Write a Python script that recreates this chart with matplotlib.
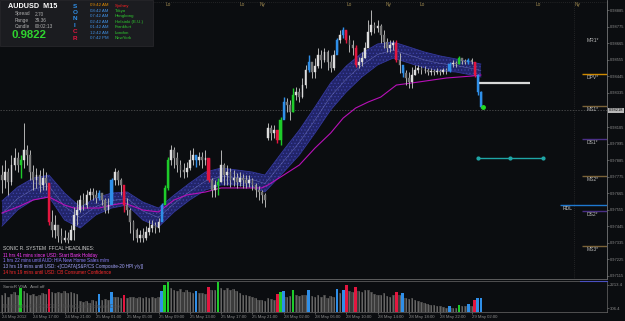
import matplotlib
matplotlib.use('Agg')
import matplotlib.pyplot as plt
from matplotlib.patches import Rectangle

plt.rcParams['font.family'] = ['Liberation Sans', 'DejaVu Sans']
plt.rcParams['hatch.linewidth'] = 0.5

# AUDUSD M15 bars
first_open = 0.97786
monday_open = 0.98033   # first bar after the weekend gap
gap_bar = 85
closes = [0.97753, 0.97806, 0.97740, 0.97853, 0.97900, 0.97853, 0.97886, 0.97953, 0.97920, 0.97806,
          0.97753, 0.97786, 0.97720, 0.97766, 0.97733, 0.97473, 0.97420, 0.97453, 0.97380, 0.97353,
          0.97366, 0.97353, 0.97420, 0.97520, 0.97553, 0.97620, 0.97586, 0.97653, 0.97673, 0.97653,
          0.97633, 0.97666, 0.97620, 0.97553, 0.97586, 0.97753, 0.97806, 0.97753, 0.97720, 0.97586,
          0.97553, 0.97473, 0.97420, 0.97366, 0.97386, 0.97366, 0.97406, 0.97433, 0.97453, 0.97433,
          0.97473, 0.97586, 0.97700, 0.97886, 0.97953, 0.97900, 0.97853, 0.97820, 0.97806, 0.97833,
          0.97886, 0.97920, 0.97886, 0.97906, 0.97886, 0.97900, 0.97753, 0.97686, 0.97720, 0.97740,
          0.97853, 0.97786, 0.97806, 0.97753, 0.97766, 0.97740, 0.97766, 0.97753, 0.97733, 0.97753,
          0.97720, 0.97686, 0.97673, 0.97653, 0.97620, 0.98100, 0.98066, 0.98086, 0.98020, 0.98153,
          0.98273, 0.98253, 0.98206, 0.98320, 0.98340, 0.98306, 0.98386, 0.98486, 0.98540, 0.98473,
          0.98513, 0.98586, 0.98553, 0.98606, 0.98540, 0.98500, 0.98586, 0.98686, 0.98720, 0.98753,
          0.98686, 0.98653, 0.98633, 0.98520, 0.98540, 0.98566, 0.98633, 0.98740, 0.98786, 0.98766,
          0.98780, 0.98720, 0.98673, 0.98633, 0.98653, 0.98666, 0.98553, 0.98520, 0.98466, 0.98433,
          0.98406, 0.98453, 0.98486, 0.98500, 0.98486, 0.98486, 0.98473, 0.98480, 0.98473, 0.98480,
          0.98473, 0.98486, 0.98480, 0.98526, 0.98533, 0.98526, 0.98566, 0.98546, 0.98540, 0.98553,
          0.98540, 0.98453, 0.98340, 0.98240]
highs = [0.97853, 0.97886, 0.97833, 0.97920, 0.97966, 0.97940, 0.97920, 0.98133, 0.97986, 0.97953,
         0.97853, 0.97833, 0.97820, 0.97833, 0.97806, 0.97733, 0.97553, 0.97520, 0.97453, 0.97433,
         0.97420, 0.97406, 0.97453, 0.97573, 0.97620, 0.97653, 0.97666, 0.97686, 0.97700, 0.97700,
         0.97686, 0.97686, 0.97666, 0.97633, 0.97633, 0.97766, 0.97833, 0.97820, 0.97766, 0.97686,
         0.97633, 0.97566, 0.97486, 0.97433, 0.97420, 0.97433, 0.97446, 0.97486, 0.97486, 0.97473,
         0.97500, 0.97600, 0.97720, 0.97906, 0.97986, 0.97973, 0.97940, 0.97886, 0.97866, 0.97873,
         0.97953, 0.97966, 0.97920, 0.97940, 0.97940, 0.97953, 0.97900, 0.97766, 0.97753, 0.97766,
         0.97953, 0.97866, 0.97853, 0.97833, 0.97820, 0.97800, 0.97806, 0.97793, 0.97786, 0.97786,
         0.97766, 0.97733, 0.97713, 0.97686, 0.97666, 0.98133, 0.98120, 0.98120, 0.98086, 0.98173,
         0.98306, 0.98300, 0.98286, 0.98366, 0.98373, 0.98366, 0.98433, 0.98520, 0.98586, 0.98520,
         0.98566, 0.98633, 0.98620, 0.98633, 0.98620, 0.98586, 0.98620, 0.98700, 0.98753, 0.98773,
         0.98753, 0.98720, 0.98686, 0.98653, 0.98573, 0.98606, 0.98673, 0.98820, 0.98886, 0.98806,
         0.98820, 0.98793, 0.98753, 0.98700, 0.98686, 0.98686, 0.98686, 0.98600, 0.98506, 0.98486,
         0.98473, 0.98506, 0.98520, 0.98520, 0.98513, 0.98513, 0.98500, 0.98500, 0.98493, 0.98500,
         0.98493, 0.98500, 0.98500, 0.98540, 0.98553, 0.98546, 0.98580, 0.98566, 0.98560, 0.98566,
         0.98566, 0.98540, 0.98460, 0.98346]
lows = [0.97666, 0.97700, 0.97653, 0.97720, 0.97820, 0.97806, 0.97766, 0.97833, 0.97853, 0.97753,
        0.97686, 0.97700, 0.97673, 0.97686, 0.97686, 0.97453, 0.97373, 0.97366, 0.97340, 0.97333,
        0.97340, 0.97333, 0.97353, 0.97353, 0.97453, 0.97540, 0.97553, 0.97566, 0.97620, 0.97620,
        0.97600, 0.97620, 0.97586, 0.97533, 0.97533, 0.97620, 0.97720, 0.97720, 0.97653, 0.97540,
        0.97520, 0.97400, 0.97353, 0.97340, 0.97340, 0.97340, 0.97353, 0.97386, 0.97406, 0.97400,
        0.97406, 0.97506, 0.97620, 0.97686, 0.97853, 0.97833, 0.97806, 0.97773, 0.97766, 0.97773,
        0.97820, 0.97853, 0.97840, 0.97853, 0.97833, 0.97853, 0.97740, 0.97640, 0.97640, 0.97653,
        0.97740, 0.97720, 0.97720, 0.97706, 0.97713, 0.97700, 0.97713, 0.97700, 0.97700, 0.97706,
        0.97686, 0.97640, 0.97620, 0.97600, 0.97573, 0.98020, 0.98020, 0.98033, 0.98000, 0.97986,
        0.98166, 0.98206, 0.98153, 0.98206, 0.98286, 0.98273, 0.98300, 0.98366, 0.98473, 0.98433,
        0.98433, 0.98500, 0.98500, 0.98540, 0.98486, 0.98473, 0.98486, 0.98606, 0.98666, 0.98700,
        0.98666, 0.98606, 0.98586, 0.98506, 0.98500, 0.98513, 0.98566, 0.98653, 0.98720, 0.98733,
        0.98740, 0.98666, 0.98633, 0.98606, 0.98606, 0.98620, 0.98540, 0.98466, 0.98440, 0.98386,
        0.98366, 0.98366, 0.98453, 0.98466, 0.98460, 0.98466, 0.98453, 0.98453, 0.98453, 0.98460,
        0.98453, 0.98460, 0.98460, 0.98473, 0.98506, 0.98506, 0.98526, 0.98526, 0.98526, 0.98526,
        0.98526, 0.98440, 0.98320, 0.98233]
volumes = [1350, 1500, 1250, 1450, 1600, 1400, 1950, 1700, 1500, 1350,
           1450, 1300, 1400, 1550, 1450, 1880, 1600, 1500, 1650, 1550,
           1700, 1500, 1650, 1550, 1450, 850, 800, 900, 750, 950,
           900, 1430, 1000, 1050, 950, 1600, 1250, 1200, 1150, 1340,
           1150, 1200, 1250, 1100, 1200, 1150, 1250, 1100, 1200, 1150,
           1250, 1700, 2140, 2450, 1900, 1800, 1700, 1850, 1650, 1750,
           1600, 1550, 1700, 1500, 1550, 1450, 2050, 1800, 1750, 2400,
           1950, 1800, 1900, 1750, 1850, 1700, 1500, 1400, 1350, 1300,
           1200, 1100, 1000, 950, 900, 1100, 1050, 1000, 1430, 1600,
           1700, 1250, 1300, 1780, 1350, 1300, 1400, 1350, 1780, 1300,
           1250, 1400, 1200, 1350, 1150, 1300, 1250, 1870, 1500, 1780,
           2150, 1700, 1650, 2050, 1700, 1650, 1800, 1750, 1600, 1450,
           1400, 1350, 1500, 1300, 1250, 1350, 1600, 1340, 1500, 1100,
           1050, 1150, 1000, 900, 800, 750, 650, 600, 550, 500,
           450, 400, 350, 450, 300, 350, 540, 500, 520, 620,
           450, 980, 1160, 1160]

# VSA coloured bars
green_bars = [6, 52, 53, 69, 89, 93, 146]
red_bars = [15, 39, 66, 88, 110, 113, 126, 151]
blue_bars = [31, 35, 51, 62, 90, 98, 107, 109, 128, 143, 149, 152, 153]

# Sonic R dragon band (EMA34 high / low) and the magenta MA
band_idx = [0, 5, 10, 15, 20, 25, 30, 35, 40, 45, 50, 55, 60, 65, 70, 75, 80, 84,
            90, 95, 100, 105, 110, 115, 120, 125, 130, 135, 140, 145, 150, 153]
band_top = [0.97613, 0.97706, 0.97766, 0.97786, 0.97666, 0.97573, 0.97633, 0.97666, 0.97673,
            0.97606, 0.97566, 0.97653, 0.97733, 0.97806, 0.97833, 0.97820, 0.97806, 0.97786,
            0.97953, 0.98086, 0.98240, 0.98400, 0.98513, 0.98600, 0.98660, 0.98673, 0.98640,
            0.98606, 0.98580, 0.98560, 0.98540, 0.98526]
band_bot = [0.97446, 0.97553, 0.97620, 0.97640, 0.97486, 0.97433, 0.97520, 0.97566, 0.97586,
            0.97486, 0.97440, 0.97540, 0.97620, 0.97686, 0.97720, 0.97720, 0.97706, 0.97673,
            0.97806, 0.97920, 0.98066, 0.98220, 0.98340, 0.98440, 0.98520, 0.98566, 0.98533,
            0.98500, 0.98480, 0.98473, 0.98453, 0.98440]
ma_idx = [0, 5, 10, 15, 20, 23, 27, 31, 35, 39, 45, 50, 55, 59, 65, 70, 75, 80, 83, 85,
          90, 95, 100, 105, 109, 113, 117, 121, 126, 133, 142, 150, 153]
ma_vals = [0.97533, 0.97573, 0.97620, 0.97640, 0.97586, 0.97566, 0.97566, 0.97566, 0.97586,
           0.97600, 0.97553, 0.97540, 0.97620, 0.97653, 0.97673, 0.97700, 0.97700, 0.97700,
           0.97700, 0.97720, 0.97786, 0.97853, 0.97966, 0.98066, 0.98166, 0.98233, 0.98273,
           0.98306, 0.98386, 0.98406, 0.98433, 0.98446, 0.98453]

current_price = 0.98218
target_white = 0.98400
target_teal = 0.97900
pivot_names = ['MR1*', 'DPV*', 'MS1*', 'DS1*', 'MS2*', 'DS2*', 'MS3*']
pivot_levels = [0.98706, 0.98460, 0.98246, 0.98026, 0.97780, 0.97546, 0.97313]
pivot_colors = ['#0b0d10', '#d08a00', '#7a6238', '#4a2f86', '#7a6238', '#4a2f86', '#7a6238']
rdl_level = 0.97586

price_ticks = [0.98885, 0.98775, 0.98665, 0.98555, 0.98445, 0.98335, 0.98105, 0.97995,
               0.97885, 0.97775, 0.97665, 0.97555, 0.97445, 0.97335, 0.97225, 0.97115]
date_bars = [0, 10, 20, 30, 40, 50, 60, 70, 80, 90, 100, 110, 120, 130, 140, 150]
date_labels = ['24 May 2012', '24 May 17:00', '24 May 21:00', '25 May 01:00', '25 May 05:00',
               '25 May 09:00', '25 May 13:00', '25 May 17:00', '25 May 21:00', '28 May 02:00',
               '28 May 06:00', '28 May 10:00', '28 May 14:00', '28 May 18:00', '28 May 22:00',
               '29 May 02:00']
session_names = ['Lo', 'Lo', 'Ny', 'Lo', 'Ny', 'Lo', 'Lo', 'Ny']
session_bars = [53, 76.7, 83.4, 111, 123.6, 134.2, 171.2, 184]

headlines = ['11 hrs 41 mins since USD: Start Bank Holiday',
             '1 hrs 22 mins until AUD: HIA New Home Sales m/m',
             '13 hrs 19 mins until USD: +[CDATA[S&P/CS Composite-20 HPI y/y]]',
             '14 hrs 19 mins until USD: CB Consumer Confidence']
headline_colors = ['#ff3cff', '#8c82ff', '#a6a6ff', '#ff2a2a']
clock_times = ['09:42 AM', '08:42 AM', '07:42 AM', '02:42 AM', '01:42 AM', '12:42 AM', '07:42 PM']
clock_cities = ['Sydney', 'Tokyo', 'Hongkong', 'Helsinki (E.U.)', 'Frankfurt', 'London', 'NewYork']

BG = '#0b0d10'
GREEN, RED, BLUE = '#1ecb2a', '#e3163f', '#2f8fe8'

n = len(closes)
opens = [first_open] + closes[:-1]
opens[gap_bar] = monday_open
colors = []
for i in range(n):
    if i in green_bars:
        colors.append(GREEN)
    elif i in red_bars:
        colors.append(RED)
    elif i in blue_bars:
        colors.append(BLUE)
    else:
        colors.append(None)

fig = plt.figure(figsize=(6.25, 3.21), dpi=100, facecolor=BG)
W, H = 625, 321
px_bar = 3.13
x0 = 2
xlim = (-x0 / px_bar, (607 - x0) / px_bar)

# ---- main price panel
ax = fig.add_axes([0, 1 - 279 / H, 607 / W, 279 / H], facecolor=BG)
ax.set_xlim(*xlim)
ax.set_ylim(0.97093, 0.98953)

ax.fill_between(band_idx, band_bot, band_top, facecolor='#22256a', edgecolor='#3d42a6',
                hatch='.....', linewidth=0, zorder=1)
ax.plot(band_idx, band_top, color='#33379a', lw=0.6, zorder=1.5)
ax.plot(band_idx, band_bot, color='#33379a', lw=0.6, zorder=1.5)
ax.plot(band_idx, [(a + b) / 2 for a, b in zip(band_top, band_bot)], color='#7b80c8',
        lw=0.4, alpha=0.7, zorder=1.6)
ax.plot(ma_idx, ma_vals, color='#b810b8', lw=0.8, zorder=2)

ax.axhline(current_price, color='#5a5a5a', lw=0.5, ls=(0, (2, 2)), zorder=0.5)

for i in range(n):
    o, c = opens[i], closes[i]
    col = colors[i]
    wick = col if col else '#b4b4b4'
    body = col if col else ('#dcdcdc' if c >= o else '#7a7a7a')
    ax.vlines(i, lows[i], highs[i], color=wick, lw=0.7 if col is None else 1.0, zorder=3)
    lo, hi = min(o, c), max(o, c)
    ax.bar(i, max(hi - lo, 0.00003), bottom=lo, width=0.55 if col is None else 0.7,
           color=body, edgecolor=body, linewidth=0.3, zorder=4)

ax.plot([n - 1 + 0.7], [closes[-1]], 'o', color='#22dd22', ms=2.5, zorder=5)
ax.hlines(target_white, (479 - x0) / px_bar, (530 - x0) / px_bar, color='#d8d8d8', lw=1.6, zorder=3)
tb = [(478 - x0) / px_bar, (510 - x0) / px_bar, (543 - x0) / px_bar]
ax.plot(tb, [target_teal] * 3, color='#1fa6a6', lw=1.0, marker='o', ms=2, zorder=3)

p0, p1 = (582 - x0) / px_bar, (607 - x0) / px_bar
for name, lev, pc in zip(pivot_names, pivot_levels, pivot_colors):
    ax.hlines(lev, p0, p1, color=pc, lw=1.0, zorder=3)
    ax.text((p0 + p1) / 2 - 0.5, lev - 0.00005, name, color='#b8b8b8', fontsize=3.6,
            ha='center', va='top', zorder=5)
ax.hlines(rdl_level, (560 - x0) / px_bar, p1, color='#1e78d0', lw=1.0, zorder=3)
ax.text((563 - x0) / px_bar, rdl_level - 0.00003, 'RDL', color='#c8c8c8', fontsize=3.6,
        ha='left', va='top', zorder=5)
ax.axvline((574 - x0) / px_bar, color='#3a3a3a', lw=0.5, ls=(0, (1, 2)), zorder=0.5)
ax.axhline(0.98940, color='#3a3a3a', lw=0.5, ls=(0, (1, 2)), zorder=0.5)

for s, b in zip(session_names, session_bars):
    ax.text(b, 0.98920, s, color='#a08a50', fontsize=3.4, ha='center', va='center')

ax.yaxis.tick_right()
ax.set_yticks(price_ticks)
ax.set_yticklabels(['%.5f' % t for t in price_ticks])
ax.tick_params(axis='y', colors='#8c8c8c', labelsize=2.9, length=1.5, pad=0.5, width=0.4)
ax.set_xticks([])
for side in ['left', 'top']:
    ax.spines[side].set_visible(False)
ax.spines['right'].set_color('#8c8c8c')
ax.spines['right'].set_linewidth(0.5)
ax.spines['bottom'].set_color('#6a6a6a')
ax.spines['bottom'].set_linewidth(0.6)
ax.text(1.003, (current_price - 0.97093) / (0.98953 - 0.97093), '%.5f' % current_price,
        transform=ax.transAxes, fontsize=2.9, color='#111111', ha='left', va='center',
        bbox=dict(boxstyle='square,pad=0.12', facecolor='#b8b8b8', edgecolor='none'),
        clip_on=False)

# ---- volume panel
vax = fig.add_axes([0, 1 - 312 / H, 607 / W, 31 / H], facecolor=BG)
vax.set_xlim(*xlim)
vax.set_ylim(0, 2500)
vcols = [c if c else '#3c3c3c' for c in colors]
vax.bar(range(n), volumes, width=0.85, color=vcols, linewidth=0)
grey_i = [i for i in range(n) if colors[i] is None]
vax.vlines(grey_i, 0, [volumes[i] for i in grey_i], color='#777777', lw=0.5)
vax.set_xticks(date_bars)
vax.set_xticklabels(date_labels, ha='left')
vax.yaxis.tick_right()
vax.set_yticks([2213.4, 306.4])
vax.set_yticklabels(['2213.4', '306.4'])
vax.tick_params(axis='both', colors='#8c8c8c', labelsize=3.1, length=1.5, pad=0.8, width=0.4)
vax.spines['left'].set_visible(False)
for side in ['right', 'bottom', 'top']:
    vax.spines[side].set_color('#6a6a6a')
    vax.spines[side].set_linewidth(0.5)
vax.text(0.005, 0.82, 'SonicR VSA   Avol off', transform=vax.transAxes, fontsize=3.2,
         color='#9a9a9a', va='center')
vax.text(0.005, 0.2, 'MetaTrader 4, \u00a9 2001-2012, MetaQuotes Software Corp.',
         transform=vax.transAxes, fontsize=3.3, color='#4a4a4a', va='center')

# ---- overlay: info box, clocks, headlines
ov = fig.add_axes([0, 0, 1, 1])
ov.set_xlim(0, W)
ov.set_ylim(H, 0)
ov.axis('off')
ov.patch.set_alpha(0)
ov.add_patch(Rectangle((0, 0), 153, 46, facecolor='#1b1c20', edgecolor='#2a2a2e', lw=0.5))
ov.text(8, 6.5, 'AUDUSD  M15', color='white', fontsize=5.2, fontweight='bold', va='center')
for k, (lab, val) in enumerate([('Spread', '2.70'), ('Range', '39.36'), ('Candle', '00:02:13')]):
    ov.text(15, 14 + 6.2 * k, lab, color='#b0b0b0', fontsize=3.4, va='center')
    ov.text(35, 14 + 6.2 * k, val, color='#b0b0b0', fontsize=3.4, va='center')
ov.text(11, 35.5, '%.4f' % 0.9822, color='#2fd42f', fontsize=8.2, fontweight='bold', va='center')
for k, (ch, cc) in enumerate(zip('SONICR', [BLUE] * 4 + [RED] * 2)):
    ov.text(75, 6 + 6.4 * k, ch, color=cc, fontsize=4.6, fontweight='bold', ha='center', va='center')
for k, (t, city) in enumerate(zip(clock_times, clock_cities)):
    yy = 5.5 + 5.4 * k
    ov.text(90, yy, t, color='#e08a00' if k == 0 else '#3f8ee0', fontsize=3.2, va='center')
    ov.text(115, yy, city, color='#ff2020' if k == 0 else '#2ec82e', fontsize=3.2, va='center')

ov.text(3, 249, 'SONIC R. SYSTEM  FFCAL HEADLINES:', color='#d0d0d0', fontsize=3.5, va='center')
for k, (h, hc) in enumerate(zip(headlines, headline_colors)):
    ov.text(3, 255 + 5.8 * k, h, color=hc, fontsize=3.3, va='center')
ov.plot([580, 607], [280.5, 280.5], color='#4a50c0', lw=0.8)

fig.savefig('out.png', dpi=100, facecolor=BG)
